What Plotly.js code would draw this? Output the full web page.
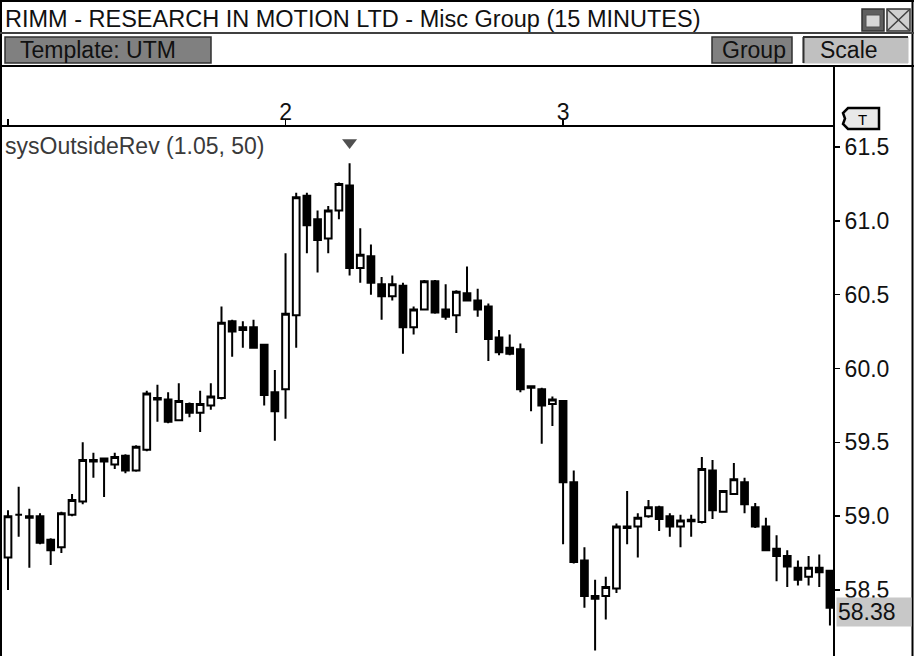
<!DOCTYPE html>
<html><head><meta charset="utf-8">
<script src="https://cdn.plot.ly/plotly-3.0.1.min.js"></script>
<style>html,body{margin:0;padding:0;background:#fff;overflow:hidden}#chart{width:914px;height:656px}</style>
</head><body><div id="chart"></div>
<script>
// 15-minute bars, index within the 3 visible sessions (26 bars per session)
const bars = [0,1,2,3,4,5,6,7,8,9,10,11,12,13,14,15,16,17,18,19,20,21,22,23,24,25,
  26,27,28,29,30,31,32,33,34,35,36,37,38,39,40,41,42,43,44,45,46,47,48,49,50,51,
  52,53,54,55,56,57,58,59,60,61,62,63,64,65,66,67,68,69,70,71,72,73,74,75,76,77];
const openP = [58.72,59.01,59.00,59.00,58.84,58.79,59.01,59.10,59.38,59.39,59.35,59.41,59.31,59.45,59.80,59.79,59.65,59.76,59.70,59.75,59.80,60.32,60.26,60.28,60.16,59.84,
  59.86,60.36,61.17,61.01,60.88,61.07,61.24,60.68,60.76,60.57,60.49,60.56,60.28,60.40,60.59,60.40,60.36,60.51,60.46,60.42,60.21,60.14,60.13,59.88,59.86,59.76,
  59.78,59.23,58.70,58.44,58.46,58.51,58.93,58.93,59.00,59.06,59.00,58.93,58.975,58.96,59.31,59.03,59.15,59.23,59.06,58.93,58.78,58.73,58.65,58.59,58.65,58.63];
const highP = [59.04,59.20,59.05,59.02,58.85,59.03,59.15,59.50,59.43,59.39,59.43,59.42,59.48,59.85,59.89,59.84,59.90,59.77,59.85,59.90,60.42,60.33,60.32,60.33,60.16,59.99,
  60.78,61.19,61.19,61.07,61.10,61.26,61.39,60.95,60.84,60.62,60.63,60.58,60.42,60.60,60.60,60.57,60.53,60.69,60.54,60.44,60.26,60.23,60.17,59.88,59.87,59.81,
  59.78,59.31,58.79,58.57,58.59,58.95,59.17,59.02,59.11,59.07,59.02,59.01,59.01,59.40,59.38,59.17,59.36,59.26,59.09,58.99,58.87,58.77,58.70,58.73,58.74,58.63];
const lowP = [58.50,58.86,58.65,58.81,58.67,58.75,59.00,59.08,59.26,59.13,59.32,59.29,59.30,59.44,59.64,59.63,59.65,59.67,59.57,59.72,59.79,60.08,60.14,60.14,59.75,59.51,
  59.66,60.14,60.78,60.65,60.78,61.01,60.63,60.58,60.50,60.33,60.46,60.10,60.23,60.40,60.37,60.33,60.24,60.46,60.35,60.05,60.09,60.09,59.84,59.71,59.49,59.61,
  58.81,58.68,58.38,58.09,58.30,58.48,58.81,58.72,58.99,58.90,58.86,58.79,58.86,58.95,58.98,59.03,59.15,59.02,58.92,58.77,58.56,58.52,58.53,58.53,58.52,58.26];
const closeP = [59.00,59.01,58.99,58.82,58.77,59.02,59.11,59.38,59.37,59.37,59.40,59.31,59.47,59.83,59.79,59.64,59.78,59.70,59.76,59.81,60.31,60.25,60.28,60.14,59.82,59.71,
  60.37,61.16,60.97,60.87,61.07,61.25,60.68,60.77,60.58,60.49,60.57,60.28,60.40,60.59,60.38,60.35,60.52,60.46,60.40,60.20,60.11,60.10,59.86,59.87,59.75,59.79,
  59.23,58.69,58.46,58.46,58.52,58.93,58.92,58.99,59.06,58.98,58.93,58.97,58.965,59.32,59.04,59.17,59.25,59.08,58.93,58.77,58.73,58.66,58.57,58.65,58.62,58.38];
const tickBars = [0, 26, 52];
const tickText = ['', '2', '3'];
const priceTicks = [58.5, 59.0, 59.5, 60.0, 60.5, 61.0, 61.5];
const signalBars = [32];   // sysOutsideRev signal
const titleText = 'RIMM - RESEARCH IN MOTION LTD - Misc Group (15 MINUTES)';
const studyText = 'sysOutsideRev (1.05, 50)';

const W = 914, H = 656, ML = 2, MR = 80, MT = 127, MB = 0;
const PW = W - ML - MR, PH = H - MT - MB;
const X = px => (px - ML) / PW;
const Y = py => (H - MB - py) / PH;
const FONT = 'Liberation Sans, Arial, sans-serif';

const candle = {
  type: 'candlestick', x: bars, open: openP, high: highP, low: lowP, close: closeP,
  increasing: {line: {color: '#000', width: 2}, fillcolor: '#fff'},
  decreasing: {line: {color: '#000', width: 2}, fillcolor: '#000'},
  whiskerwidth: 0, hoverinfo: 'skip', showlegend: false
};
const signal = {
  type: 'scatter', mode: 'markers', showlegend: false, hoverinfo: 'skip',
  x: signalBars, y: signalBars.map(i => highP[i] + 0.14),
  marker: {symbol: 'triangle-down', size: 13, color: '#505050', line: {width: 0}}
};

function line(x0, y0, x1, y1, color, width) {
  return {type: 'line', xref: 'paper', yref: 'paper', x0: X(x0), y0: Y(y0), x1: X(x1), y1: Y(y1),
    line: {color: color, width: width}, layer: 'above'};
}
function rect(x0, y0, x1, y1, fill, color, width) {
  return {type: 'rect', xref: 'paper', yref: 'paper', x0: X(x0), y0: Y(y0), x1: X(x1), y1: Y(y1),
    fillcolor: fill, line: {color: color, width: width}, layer: 'above'};
}
function path(pts, fill, color, width) {
  const d = pts.map((p, i) => (i ? 'L' : 'M') + X(p[0]).toFixed(5) + ',' + Y(p[1]).toFixed(5)).join(' ') + ' Z';
  return {type: 'path', xref: 'paper', yref: 'paper', path: d, fillcolor: fill, line: {color: color, width: width}, layer: 'above'};
}

const shapes = [
  // outer frame
  line(1, 0, 1, 656, '#000', 2),
  line(0, 1, 914, 1, '#000', 2),
  line(912.5, 0, 912.5, 656, '#000', 2),
  line(0, 33, 914, 33, '#404040', 2),
  line(0, 66, 914, 66, '#000', 2),
  // buttons
  rect(5, 37, 211, 63, '#808080', '#303030', 1.5),
  rect(712, 37, 792, 63, '#808080', '#303030', 1.5),
  rect(803, 37, 908, 63, '#c0c0c0', '#c0c0c0', 1),
  line(803, 37, 908, 37, '#303030', 2),
  line(803.5, 37, 803.5, 63, '#303030', 2),
  // window icons
  rect(862, 9, 884, 31, '#606060', '#303030', 1.5),
  rect(866, 15, 880, 27, '#d8d8d8', '#505050', 1),
  rect(887, 9, 910, 31, '#d0d0d0', '#303030', 1.5),
  line(888, 10, 909, 30, '#404040', 1.5),
  line(909, 10, 888, 30, '#404040', 1.5),
  // right price axis line
  line(834, 66, 834, 656, '#000', 2),
  // T tag
  path([[848, 108], [879, 108], [879, 129], [848, 129], [843, 124], [845, 118.5], [843, 113]], '#e8e8e8', '#000', 2.5)
];

const ann = (text, x, y, opts) => Object.assign({
  text: text, xref: 'paper', yref: 'paper', x: X(x), y: Y(y), xanchor: 'left', yanchor: 'middle',
  showarrow: false, font: {family: FONT, size: 23, color: '#111'}
}, opts || {});

const annotations = [
  ann(titleText, 3, 19, {font: {family: FONT, size: 23.5, color: '#111'}}),
  ann('Template: UTM', 18, 50),
  ann('Group', 720, 50),
  ann('Scale', 818, 50),
  ann(studyText, 3, 146, {font: {family: FONT, size: 23, color: '#3a3a3a'}}),
  ann('T', 862, 119, {xanchor: 'center', font: {family: FONT, size: 15, color: '#000'}}),
  {text: closeP[closeP.length - 1].toFixed(2), xref: 'paper', yref: 'y', x: X(836), y: closeP[closeP.length - 1],
   yshift: -4, xanchor: 'left', yanchor: 'middle', showarrow: false, bgcolor: '#c8c8c8',
   width: 72, height: 26, align: 'left', font: {family: FONT, size: 23, color: '#111'}}
];

const layout = {
  width: W, height: H, margin: {l: ML, r: MR, t: MT, b: MB, pad: 0},
  paper_bgcolor: '#fff', plot_bgcolor: '#fff', showlegend: false, boxgap: 0.3, boxgroupgap: 0.1,
  font: {family: FONT, size: 23, color: '#111'},
  xaxis: {type: 'linear', side: 'top', range: [-0.562, 77.38], showgrid: false, zeroline: false,
    showline: true, linecolor: '#000', linewidth: 2, mirror: false,
    tickmode: 'array', tickvals: tickBars, ticktext: tickText, ticks: 'outside', ticklen: 6,
    tickwidth: 1.5, tickcolor: '#000', tickfont: {family: FONT, size: 23, color: '#111'},
    ticklabelstandoff: -10,
    rangeslider: {visible: false}, fixedrange: true},
  yaxis: {side: 'right', range: [58.0531, 61.6354], showgrid: false, zeroline: false, showline: false,
    tickmode: 'array', tickvals: priceTicks, ticktext: priceTicks.map(v => v.toFixed(1)),
    ticks: 'outside', ticklen: 5, tickwidth: 1.5, tickcolor: '#000',
    tickfont: {family: FONT, size: 23, color: '#111'}, fixedrange: true},
  shapes: shapes, annotations: annotations
};

Plotly.newPlot('chart', [candle, signal], layout, {displayModeBar: false, staticPlot: true});
</script></body></html>
